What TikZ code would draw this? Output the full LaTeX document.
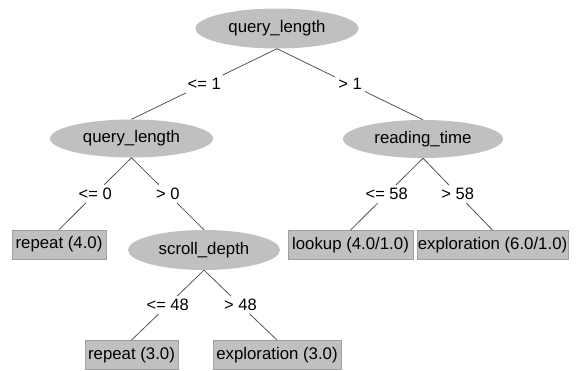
\documentclass[tikz,border=0pt]{standalone}
\usepackage{fontspec}
\setmainfont{Liberation Sans}
\usetikzlibrary{shapes.geometric}
\definecolor{nodegray}{HTML}{C0C0C0}
\definecolor{boxedge}{HTML}{A0A0A0}
\definecolor{edgegray}{HTML}{555555}
\tikzset{
  inode/.style={ellipse, fill=nodegray, inner sep=0pt, font=\fontsize{16.8}{19}\selectfont},
  leaf/.style={rectangle, fill=nodegray, draw=boxedge, line width=0.8pt, inner sep=0pt, minimum height=29pt, font=\fontsize{16.8}{19}\selectfont},
  lbl/.style={inner sep=3pt, font=\fontsize{16.5}{19}\selectfont},
  conn/.style={draw=edgegray, line width=0.8pt}
}
\begin{document}
\begin{tikzpicture}[x=1pt,y=-1pt]
\useasboundingbox (0,0) rectangle (577,370);
% internal nodes
\node[inode, minimum width=163pt, minimum height=40pt] (root) at (277,28.5) {query\_length};
\node[inode, minimum width=163pt, minimum height=38pt] (ql) at (131.5,138.5) {query\_length};
\node[inode, minimum width=160pt, minimum height=38pt] (rt) at (423,139) {reading\_time};
\node[inode, minimum width=152pt, minimum height=40pt] (sd) at (204,250) {scroll\_depth};
% leaves
\node[leaf, minimum width=94pt] (rep4) at (59,244.5) {repeat (4.0)};
\node[leaf, minimum width=125pt] (look) at (350.5,245) {lookup (4.0/1.0)};
\node[leaf, minimum width=151pt] (exp6) at (492.5,245) {exploration (6.0/1.0)};
\node[leaf, minimum width=93pt] (rep3) at (131.5,355) {repeat (3.0)};
\node[leaf, minimum width=128pt] (exp3) at (277,355) {exploration (3.0)};
% labels
\path (root.south) -- (ql.north) node[lbl, midway] (l1) {<= 1};
\path (root.south) -- (rt.north) node[lbl, midway] (l2) {> 1};
\path (ql.south) -- (rep4.north) node[lbl, midway] (l3) {<= 0};
\path (ql.south) -- (sd.north) node[lbl, midway] (l4) {> 0};
\path (rt.south) -- (look.north) node[lbl, midway] (l5) {<= 58};
\path (rt.south) -- (exp6.north) node[lbl, midway] (l6) {> 58};
\path (sd.south) -- (rep3.north) node[lbl, midway] (l7) {<= 48};
\path (sd.south) -- (exp3.north) node[lbl, midway] (l8) {> 48};
% connectors
\draw[conn] (root.south) -- (l1); \draw[conn] (l1) -- (ql.north);
\draw[conn] (root.south) -- (l2); \draw[conn] (l2) -- (rt.north);
\draw[conn] (ql.south) -- (l3); \draw[conn] (l3) -- (rep4.north);
\draw[conn] (ql.south) -- (l4); \draw[conn] (l4) -- (sd.north);
\draw[conn] (rt.south) -- (l5); \draw[conn] (l5) -- (look.north);
\draw[conn] (rt.south) -- (l6); \draw[conn] (l6) -- (exp6.north);
\draw[conn] (sd.south) -- (l7); \draw[conn] (l7) -- (rep3.north);
\draw[conn] (sd.south) -- (l8); \draw[conn] (l8) -- (exp3.north);
\end{tikzpicture}
\end{document}
